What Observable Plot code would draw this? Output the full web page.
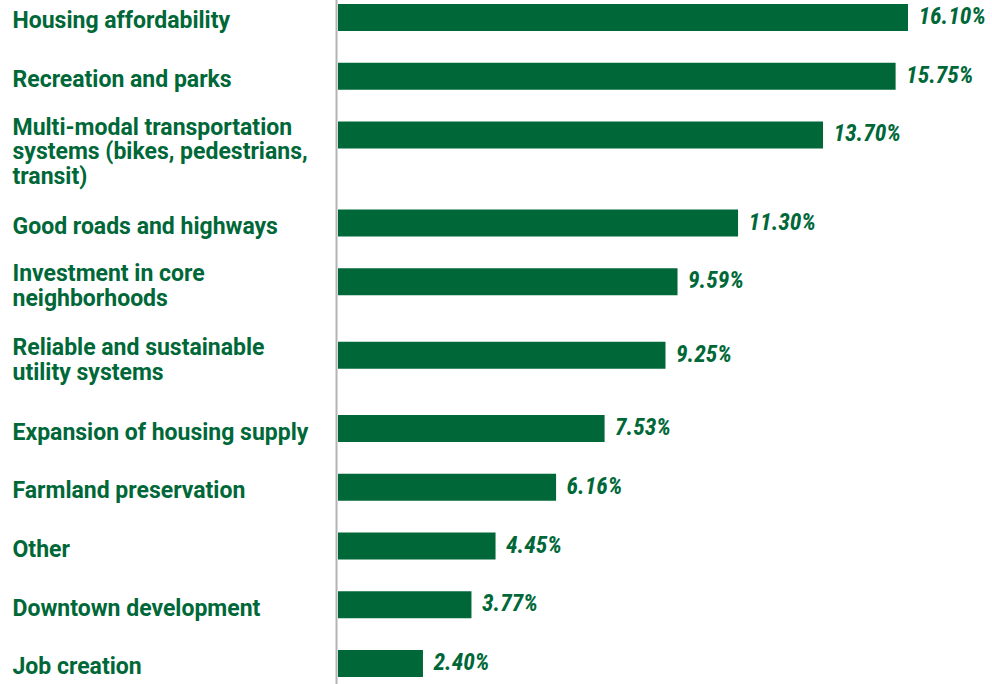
<!DOCTYPE html>
<html><head><meta charset="utf-8">
<script src="https://cdn.jsdelivr.net/npm/d3@7"></script>
<script src="https://cdn.jsdelivr.net/npm/@observablehq/plot@0.6"></script>
<style>body{margin:0;background:#fff}</style>
</head><body><div id="chart"></div>
<script>
const categories = [
  "Housing affordability",
  "Recreation and parks",
  "Multi-modal transportation\nsystems (bikes, pedestrians,\ntransit)",
  "Good roads and highways",
  "Investment in core\nneighborhoods",
  "Reliable and sustainable\nutility systems",
  "Expansion of housing supply",
  "Farmland preservation",
  "Other",
  "Downtown development",
  "Job creation"
];
const values = [16.10, 15.75, 13.70, 11.30, 9.59, 9.25, 7.53, 6.16, 4.45, 3.77, 2.40];
const valueLabels = ["16.10%", "15.75%", "13.70%", "11.30%", "9.59%", "9.25%", "7.53%", "6.16%", "4.45%", "3.77%", "2.40%"];

const green = "#006838";
const labelFont = "Roboto, 'Noto Sans', sans-serif";
const valueFont = "'Liberation Sans Narrow', 'Roboto Condensed', Roboto, sans-serif";

// slot positions: a wrapped label takes a little more vertical room
let acc = 0;
const data = categories.map((c, i) => {
  if (i > 0) acc += 1 + 0.25 * (categories[i - 1].split("\n").length - 1);
  return {label: c, lines: c.split("\n").length, value: values[i], valueLabel: valueLabels[i], pos: acc};
});
const single = data.filter(d => d.lines === 1);
const multi = data.filter(d => d.lines > 1);

const labelStyle = {x: 0, y: "pos", text: "label", textAnchor: "start", dx: -326,
  lineHeight: 1.08, fontSize: 23, fontWeight: 700, fill: green, fontFamily: labelFont};

const chart = Plot.plot({
  width: 992, height: 684,
  marginLeft: 338, marginRight: 84, marginTop: 17, marginBottom: 21,
  style: {fontFamily: labelFont, background: "#fff"},
  x: {domain: [0, 16.1], axis: null},
  y: {domain: [0, acc], reverse: true, axis: null},
  marks: [
    Plot.ruleY(data, {y: "pos", x1: 0, x2: "value", stroke: green, strokeWidth: 27}),
    Plot.ruleX([0], {dx: -2, stroke: "#b3b3b3", strokeWidth: 2, insetTop: -17, insetBottom: -21}),
    Plot.text(single, {...labelStyle, lineAnchor: "middle", dy: 3}),
    Plot.text(multi, {...labelStyle, lineAnchor: "top", dy: -18}),
    Plot.text(data, {x: "value", y: "pos", text: "valueLabel", textAnchor: "start", dx: 10, dy: -1,
      fontSize: 23.5, fontWeight: 700, fontStyle: "italic", fill: green, fontFamily: valueFont})
  ]
});
document.getElementById("chart").appendChild(chart);
</script>
</body></html>
